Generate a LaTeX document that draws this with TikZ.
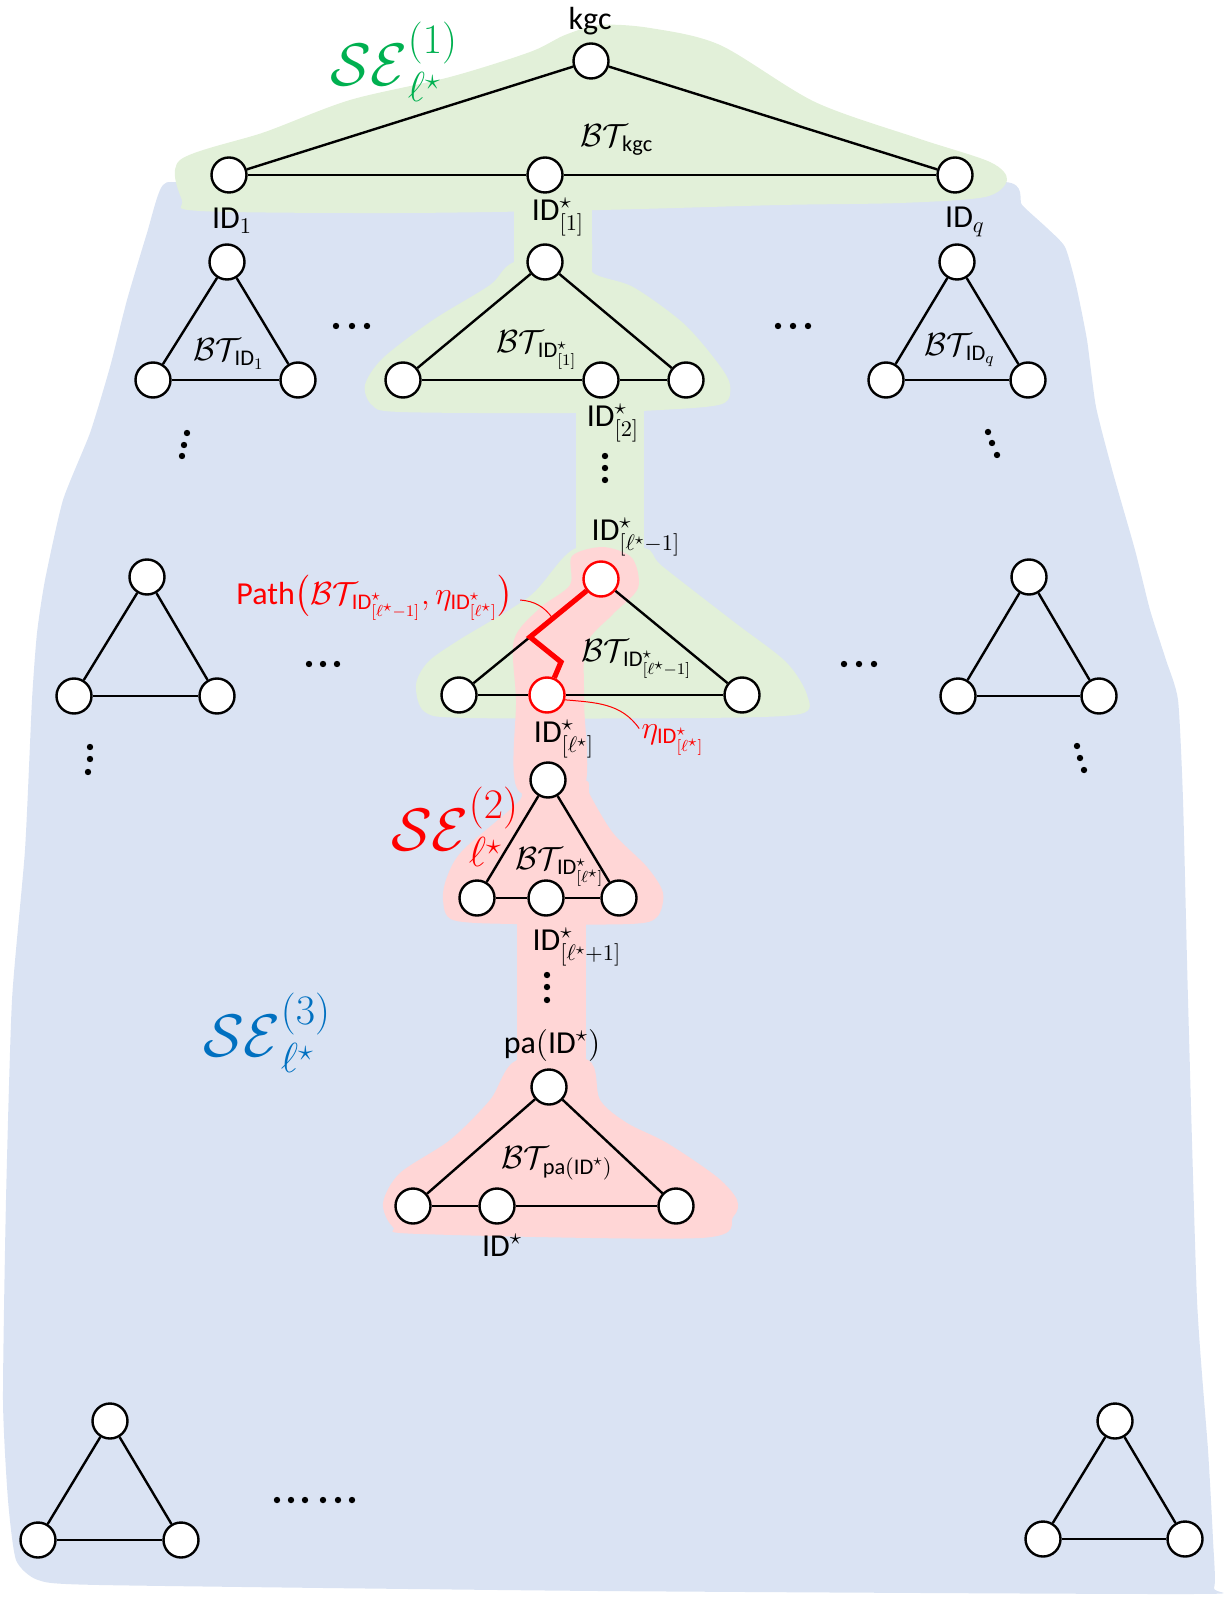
\documentclass[tikz,border=0pt]{standalone}
\usepackage{fix-cm}
\usepackage{amsmath}
\usepackage[no-math]{fontspec}
\setmainfont{Carlito}
\usetikzlibrary{calc}

\definecolor{bluebg}{HTML}{DAE3F3}
\definecolor{greenbg}{HTML}{E2F0D9}
\definecolor{pinkbg}{HTML}{FFD6D6}
\definecolor{segreen}{HTML}{00B050}
\definecolor{seblue}{HTML}{0070C0}

\newcommand{\IDs}{\text{ID}^{\star}}
\newcommand{\BTsub}[1]{\mathcal{BT}_{\mkern-5mu#1}}

\begin{document}
\begin{tikzpicture}[x=0.5pt,y=-0.5pt,
  vtx/.style={circle, draw=black, line width=1.2pt, fill=white, minimum size=17.5pt, inner sep=0pt},
  redvtx/.style={vtx, draw=red},
  edge/.style={line width=1.2pt, black},
  redpath/.style={line width=2.6pt, red, line join=miter},
  leader/.style={line width=0.5pt, red},
  lbl/.style={inner sep=0pt, font=\fontsize{16}{19}\selectfont},
  selbl/.style={inner sep=0pt, font=\fontsize{30}{35}\selectfont},
  dotmark/.style={fill=black}
]
\useasboundingbox (0,0) rectangle (1225,1598);

% ---------- background regions ----------
\fill[bluebg] plot[smooth cycle, tension=0.35] coordinates {
  (163,185) (200,183) (500,190) (800,190) (1005,182) (1022,205) (1047,228)
  (1065,247) (1076,285) (1087,340) (1096,407) (1113,473) (1135,550)
  (1150,610) (1166,660) (1178,700) (1183,800) (1188,1000) (1197,1300)
  (1208,1450) (1213,1540) (1214,1588) (1190,1594) (600,1591) (100,1585)
  (38,1580) (16,1560) (8,1500) (3,1400) (6,1200) (12,1000) (25,850)
  (32,700) (37,633) (45,580) (63,500) (90,433) (110,367) (127,300) (147,233)};

% green: top level, first branch, branch down to level l*-1
\fill[greenbg] plot[smooth cycle, tension=0.5] coordinates {
  (180,160) (265,132) (350,100) (450,77) (530,52) (565,35) (600,25)
  (650,28) (720,45) (815,102) (917,138) (990,162) (1007,180) (985,197)
  (900,203) (780,205) (600,210) (400,213) (200,211) (182,200)};
\fill[greenbg] (514,195) rectangle (592,300);
\fill[greenbg] plot[smooth cycle, tension=0.5] coordinates {
  (514,262) (490,285) (433,320) (383,358) (365,385) (372,405) (400,412)
  (570,413) (660,410) (722,404) (730,385) (717,362) (683,323) (633,287)
  (592,272) (588,240)};
\fill[greenbg] (576,400) rectangle (644,570);
\fill[greenbg] plot[smooth cycle, tension=0.5] coordinates {
  (576,548) (530,596) (459,640) (428,662) (416,685) (425,712) (470,718)
  (700,718) (800,714) (807,695) (786,662) (734,622) (662,566) (644,548)};

% pink: path from level l*-1 down to pa(ID*)
\fill[pinkbg] plot[smooth cycle, tension=0.5] coordinates {
  (572,556) (603,547) (632,558) (638,588) (612,615) (586,645) (584,700)
  (583,790) (518,790) (516,700) (514,640) (540,608) (570,585)};
\fill[pinkbg] plot[smooth cycle, tension=0.5] coordinates {
  (519,780) (520,800) (463,850) (447,877) (443,900) (453,920) (513,924)
  (630,924) (657,917) (663,893) (647,867) (613,833) (590,795) (584,780)};
\fill[pinkbg] (517,900) rectangle (586,1080);
\fill[pinkbg] plot[smooth cycle, tension=0.5] coordinates {
  (517,1060) (490,1100) (450,1140) (400,1173) (383,1203) (393,1227)
  (420,1234) (700,1238) (733,1217) (737,1200) (717,1177) (667,1143)
  (627,1123) (600,1100) (588,1060)};

% ---------- vertices ----------
\node[vtx] (kgc) at (591,61) {};
\node[vtx] (t1) at (229,175) {};
\node[vtx] (t2) at (545,175) {};
\node[vtx] (t3) at (955,175) {};

\node[vtx] (a0) at (227,262) {};
\node[vtx] (a1) at (153,380) {};
\node[vtx] (a2) at (298,380) {};

\node[vtx] (b0) at (545,262) {};
\node[vtx] (b1) at (403,380) {};
\node[vtx] (b2) at (601,380) {};
\node[vtx] (b3) at (686,380) {};

\node[vtx] (c0) at (957,262) {};
\node[vtx] (c1) at (886,380) {};
\node[vtx] (c2) at (1028,380) {};

\node[vtx] (d0) at (147,577) {};
\node[vtx] (d1) at (74,696) {};
\node[vtx] (d2) at (217,696) {};

\node[redvtx] (e0) at (601,579) {};
\node[vtx] (e1) at (459,695) {};
\node[redvtx] (e2) at (547,695) {};
\node[vtx] (e3) at (742,695) {};

\node[vtx] (f0) at (1029,577) {};
\node[vtx] (f1) at (958,696) {};
\node[vtx] (f2) at (1099,696) {};

\node[vtx] (g0) at (548,780) {};
\node[vtx] (g1) at (477,898) {};
\node[vtx] (g2) at (546,898) {};
\node[vtx] (g3) at (619,898) {};

\node[vtx] (h0) at (549,1087) {};
\node[vtx] (h1) at (413,1206) {};
\node[vtx] (h2) at (497,1206) {};
\node[vtx] (h3) at (676,1206) {};

\node[vtx] (i0) at (110,1421) {};
\node[vtx] (i1) at (38,1540) {};
\node[vtx] (i2) at (181,1540) {};

\node[vtx] (j0) at (1115,1421) {};
\node[vtx] (j1) at (1043,1539) {};
\node[vtx] (j2) at (1185,1539) {};

% ---------- edges ----------
\draw[edge] (kgc) -- (t1);
\draw[edge] (kgc) -- (t3);
\draw[edge] (t1) -- (t2);
\draw[edge] (t2) -- (t3);

\foreach \p in {a,c,d,f,i,j}{
  \draw[edge] (\p0) -- (\p1);
  \draw[edge] (\p0) -- (\p2);
  \draw[edge] (\p1) -- (\p2);
}
\foreach \p in {b,e,g,h}{
  \draw[edge] (\p0) -- (\p1);
  \draw[edge] (\p0) -- (\p3);
  \draw[edge] (\p1) -- (\p2);
  \draw[edge] (\p2) -- (\p3);
}

% path inside BT_{ID*[l*-1]} from its root to eta
\coordinate (z1) at ($(e1)!0.5!(e0)$);
\coordinate (z2) at (561,662);
\draw[redpath] (e0) -- (z1) -- (z2) -- (e2);

% ---------- labels ----------
\node[lbl] (lkgc) at (590,21) {kgc};
\node[lbl] (lbtkgc) at (617,140) {$\BTsub{\text{kgc}}$};
\node[selbl, text=segreen] (se1) at (394,62) {$\mathcal{SE}^{(1)}_{\ell^{\star}}$};

\node[lbl] (lid1) at (232,221) {ID$_1$};
\node[lbl] (lbt1) at (229,354) {$\BTsub{\text{ID}_1}$};
\node[lbl] (lids1) at (558,217) {$\IDs_{[1]}$};
\node[lbl] (lbts1) at (537,350) {$\BTsub{\IDs_{[1]}}$};
\node[lbl] (lids2) at (613,423) {$\IDs_{[2]}$};
\node[lbl] (lidq) at (965,222) {ID$_q$};
\node[lbl] (lbtq) at (960,350) {$\BTsub{\text{ID}_q}$};

\node[lbl] (lidsm) at (636,537) {$\IDs_{[\ell^{\star}-1]}$};
\node[lbl] (lbtsm) at (637,659) {$\BTsub{\IDs_{[\ell^{\star}-1]}}$};
\node[lbl, text=red, anchor=west] (lpath) at (236,598)
  {Path$\big(\BTsub{\IDs_{[\ell^{\star}-1]}},\eta_{\IDs_{[\ell^{\star}]}}\big)$};
\node[lbl, text=red] (leta) at (673,740) {$\eta_{\IDs_{[\ell^{\star}]}}$};
\node[lbl] (lidsl) at (564,739) {$\IDs_{[\ell^{\star}]}$};

\node[selbl, text=red] (se2) at (455,827) {$\mathcal{SE}^{(2)}_{\ell^{\star}}$};
\node[lbl] (lbtsl) at (560,867) {$\BTsub{\IDs_{[\ell^{\star}]}}$};
\node[lbl] (lidsp) at (577,947) {$\IDs_{[\ell^{\star}+1]}$};

\node[selbl, text=seblue] (se3) at (267,1033) {$\mathcal{SE}^{(3)}_{\ell^{\star}}$};
\node[lbl] (lpa) at (552,1045) {pa$($ID$^{\star})$};
\node[lbl] (lbtpa) at (557,1163) {$\BTsub{\text{pa}(\text{ID}^{\star})}$};
\node[lbl] (lidstar) at (502,1245) {ID$^{\star}$};

% leaders to the path and to eta
\coordinate (pathpt) at ($(e0)!0.68!(z1)$);
\draw[leader] ($(lpath.east)+(6,2)$) to[bend left=25] (pathpt);
\draw[leader] (e2.-15) to[out=-5,in=125] ($(leta.north west)+(-2,4)$);

% ---------- ellipses ----------
\foreach \x in {336,352,367, 778,793,808}{\fill[dotmark] (\x,326) circle[radius=1.6pt];}
\foreach \x in {309,323,337, 844,859,874}{\fill[dotmark] (\x,664) circle[radius=1.6pt];}
\foreach \x in {277,291,305,323,338,352}{\fill[dotmark] (\x,1500) circle[radius=1.6pt];}
\foreach \x/\y in {187/433,184/445,182/456, 988/432,992/443,997/455,
                   605/456,605/468,605/480, 90/747,90/759,88/772,
                   1077/746,1080/758,1084/770, 547/975,547/987,547/1000}
  {\fill[dotmark] (\x,\y) circle[radius=1.6pt];}
\end{tikzpicture}
\end{document}
